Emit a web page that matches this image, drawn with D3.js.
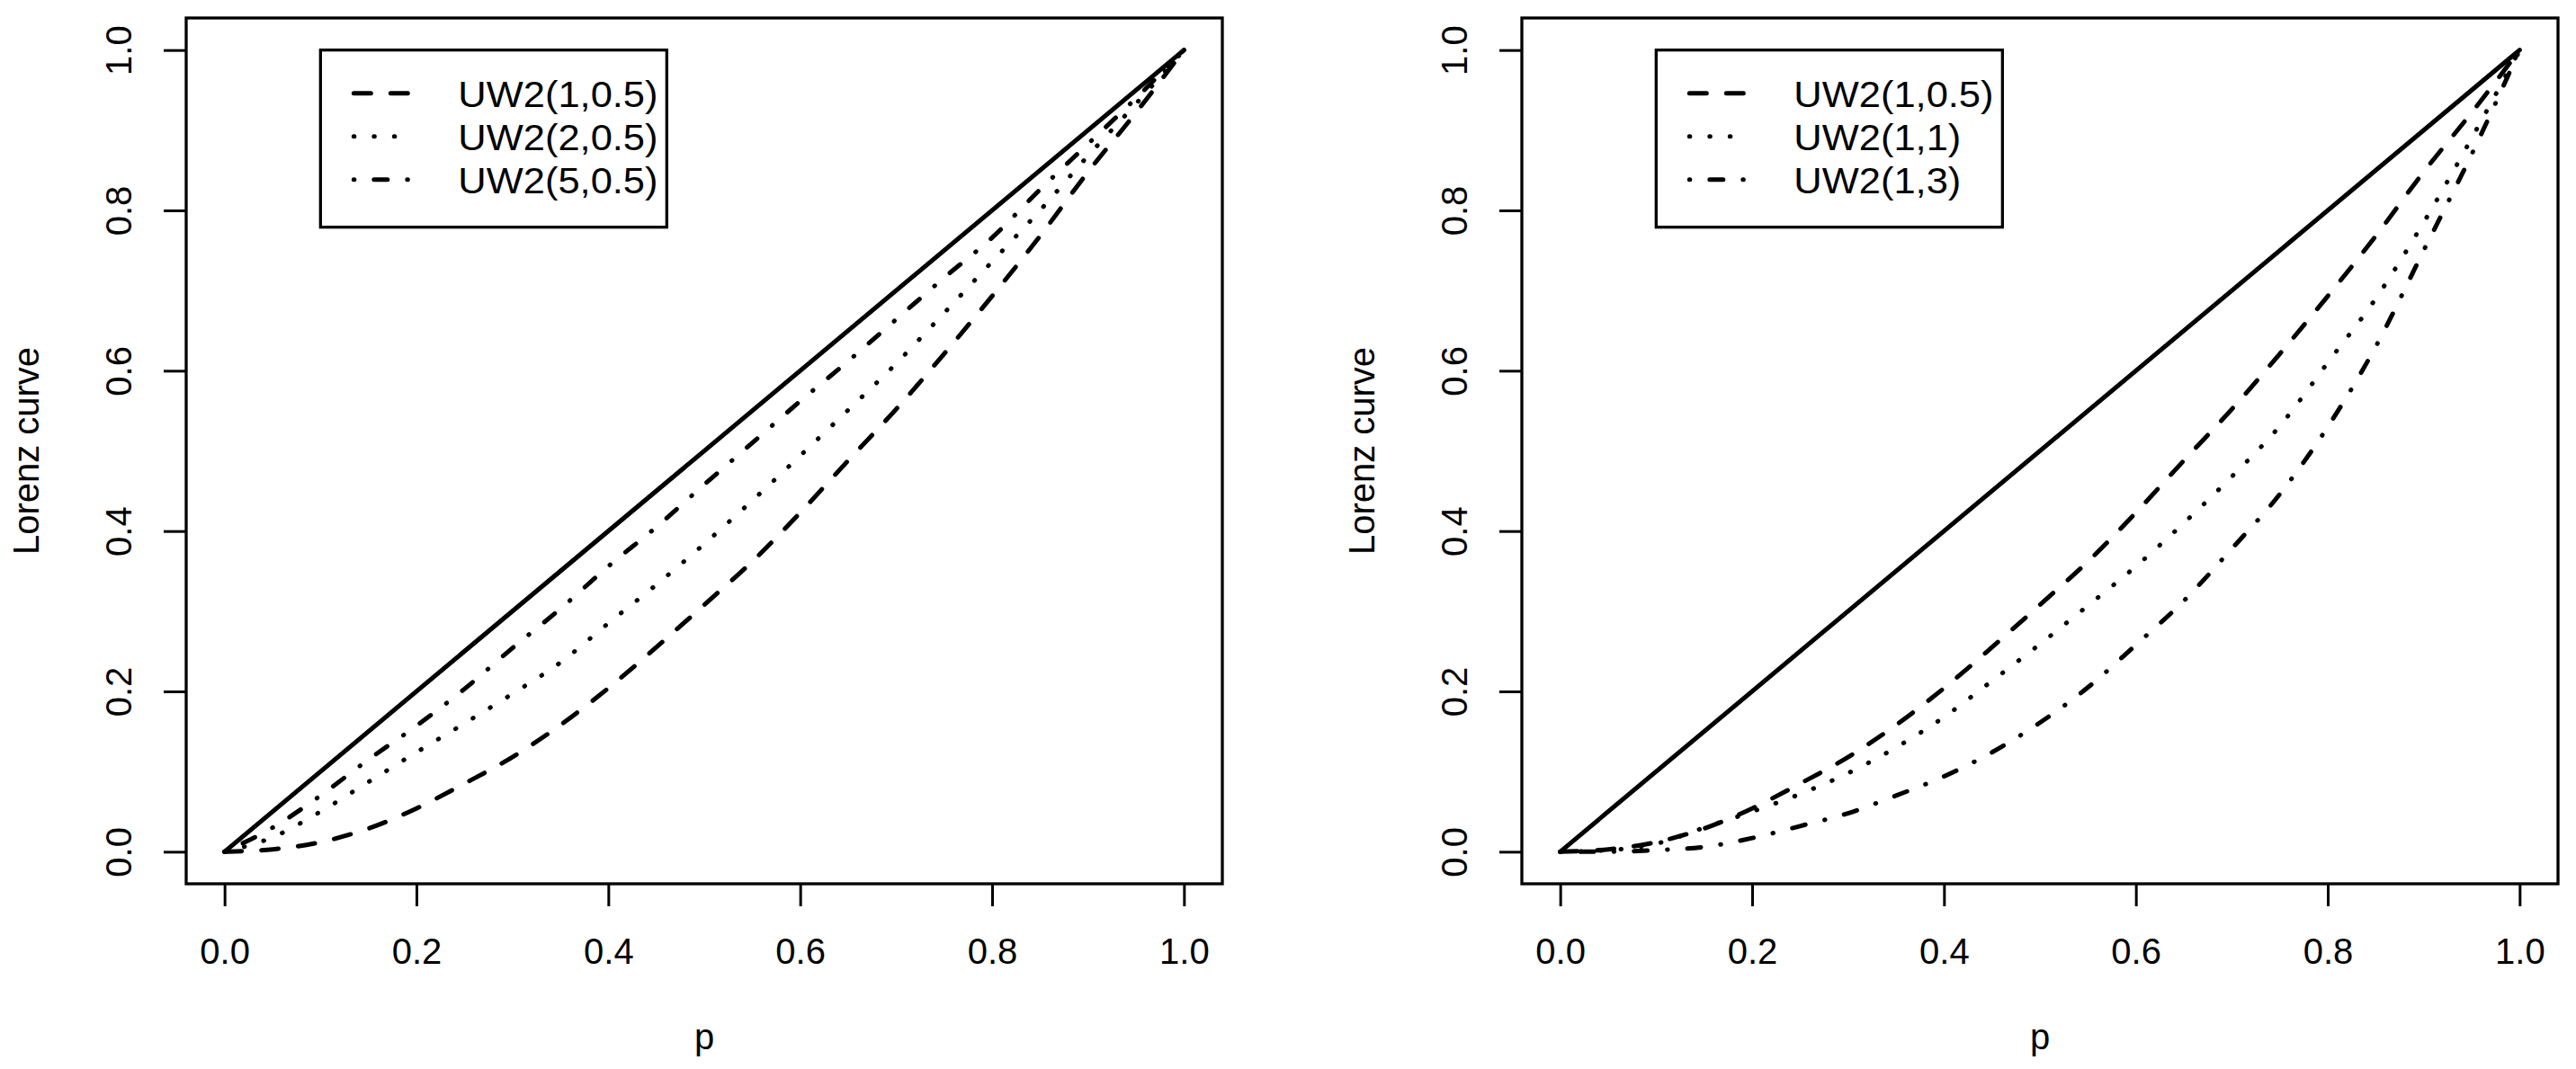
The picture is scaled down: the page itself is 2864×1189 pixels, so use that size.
<!DOCTYPE html>
<html>
<head>
<meta charset="utf-8">
<script src="https://cdn.jsdelivr.net/npm/d3@7"></script>
<style>
  body { margin: 0; background: #fff; }
  svg { display: block; font-family: "Liberation Sans", Arial, sans-serif; }
</style>
</head>
<body>
<div id="chart"></div>
<script>
// p grid shared by every curve
const pValues = [0, 0.05, 0.1, 0.15, 0.2, 0.25, 0.3, 0.35, 0.4, 0.45, 0.5,
                 0.55, 0.6, 0.65, 0.7, 0.75, 0.8, 0.85, 0.9, 0.95, 1];

// equality line
const equalityP = [0, 1];
const equalityL = [0, 1];

// left panel
const uw2_1_05 = [0, 0.003, 0.012, 0.029, 0.054, 0.085, 0.118, 0.158, 0.204, 0.255, 0.308,
                  0.362, 0.423, 0.488, 0.552, 0.621, 0.693, 0.768, 0.848, 0.922, 1];
const uw2_2_05 = [0, 0.018, 0.05, 0.087, 0.124, 0.16, 0.197, 0.236, 0.285, 0.333, 0.384,
                  0.438, 0.494, 0.551, 0.609, 0.672, 0.736, 0.8, 0.868, 0.933, 1];
const uw2_5_05 = [0, 0.03, 0.07, 0.115, 0.157, 0.203, 0.254, 0.303, 0.356, 0.405, 0.458,
                  0.51, 0.562, 0.612, 0.664, 0.716, 0.766, 0.826, 0.883, 0.94, 1];

// right panel
const uw2_1_1 = [0, 0.002, 0.01, 0.03, 0.05, 0.072, 0.098, 0.13, 0.168, 0.213, 0.259,
                 0.307, 0.356, 0.41, 0.468, 0.531, 0.61, 0.69, 0.785, 0.89, 1];
const uw2_1_3 = [0, 0, 0.002, 0.006, 0.017, 0.032, 0.048, 0.07, 0.094, 0.124, 0.161,
                 0.205, 0.258, 0.313, 0.378, 0.446, 0.53, 0.63, 0.75, 0.87, 1];

const leftLabels = ["UW2(1,0.5)", "UW2(2,0.5)", "UW2(5,0.5)"];
const rightLabels = ["UW2(1,0.5)", "UW2(1,1)", "UW2(1,3)"];

const tickValues = [0, 0.2, 0.4, 0.6, 0.8, 1.0];

const WIDTH = 2864, HEIGHT = 1189;
const LWD = 5;
const dashes = {
    dashed: "19,22",
    dotted: "0.5,22",
    dotdash: "0.5,22,15,22"
};

const svg = d3.select("#chart")
    .append("svg")
    .attr("width", WIDTH)
    .attr("height", HEIGHT);

svg.append("rect")
    .attr("width", WIDTH)
    .attr("height", HEIGHT)
    .attr("fill", "#fff");

function createPanel(left, series, labels) {
    const plotW = 1152;
    const top = 20, bottom = 983;

    // R style 4% padding around [0,1]
    const x = d3.scaleLinear().domain([-0.04, 1.04]).range([left, left + plotW]);
    const y = d3.scaleLinear().domain([-0.04, 1.04]).range([bottom, top]);

    const g = svg.append("g");

    const line = d3.line()
        .x(d => x(d[0]))
        .y(d => y(d[1]))
        .curve(d3.curveMonotoneX);

    // equality line
    g.append("path")
        .datum(d3.zip(equalityP, equalityL))
        .attr("d", line)
        .attr("fill", "none")
        .attr("stroke", "#000")
        .attr("stroke-width", LWD)
        .attr("stroke-linecap", "round");

    series.forEach(s => {
        g.append("path")
            .datum(d3.zip(pValues, s.values))
            .attr("d", line)
            .attr("fill", "none")
            .attr("stroke", "#000")
            .attr("stroke-width", LWD)
            .attr("stroke-linecap", "round")
            .attr("stroke-dasharray", dashes[s.lty]);
    });

    // box
    g.append("rect")
        .attr("x", left)
        .attr("y", top)
        .attr("width", plotW)
        .attr("height", bottom - top)
        .attr("fill", "none")
        .attr("stroke", "#000")
        .attr("stroke-width", 3.3);

    const xAxis = g.append("g")
        .attr("transform", `translate(0, ${bottom})`)
        .call(d3.axisBottom(x).tickValues(tickValues).tickFormat(d3.format(".1f")).tickSize(25));
    xAxis.select(".domain").remove();
    xAxis.selectAll(".tick line").attr("stroke-width", 3);
    xAxis.selectAll("text")
        .attr("y", 89)
        .attr("dy", 0)
        .style("font-size", "40px")
        .attr("fill", "#000");

    const yAxis = g.append("g")
        .attr("transform", `translate(${left}, 0)`)
        .call(d3.axisLeft(y).tickValues(tickValues).tickFormat(d3.format(".1f")).tickSize(25));
    yAxis.select(".domain").remove();
    yAxis.selectAll(".tick line").attr("stroke-width", 3);
    yAxis.selectAll("text")
        .attr("x", 0)
        .attr("y", -61)
        .attr("dy", 0)
        .attr("text-anchor", "middle")
        .attr("transform", "rotate(-90)")
        .style("font-size", "40px")
        .attr("fill", "#000");

    // axis titles
    g.append("text")
        .attr("x", left + plotW / 2)
        .attr("y", 1167)
        .attr("text-anchor", "middle")
        .style("font-size", "40px")
        .text("p");

    g.append("text")
        .attr("transform", `translate(${left - 164}, ${(top + bottom) / 2}) rotate(-90)`)
        .attr("text-anchor", "middle")
        .style("font-size", "40px")
        .text("Lorenz curve");

    // legend, anchored at (0.1, 1.0) like legend(0.1, 1, ...)
    const lx = x(0.1), ly = y(1);
    const legend = g.append("g").attr("transform", `translate(${lx}, ${ly})`);
    legend.append("rect")
        .attr("width", 385)
        .attr("height", 197)
        .attr("fill", "#fff")
        .attr("stroke", "#000")
        .attr("stroke-width", 3.3);

    series.forEach((s, i) => {
        const rowY = 48 + i * 48;
        legend.append("line")
            .attr("x1", 37).attr("x2", 100)
            .attr("y1", rowY).attr("y2", rowY)
            .attr("stroke", "#000")
            .attr("stroke-width", LWD)
            .attr("stroke-linecap", "round")
            .attr("stroke-dasharray", dashes[s.lty]);
        const t = legend.append("text")
            .attr("x", 153)
            .attr("y", rowY + 15)
            .style("font-size", "41px")
            .text(labels[i]);
        // glyphs in the original run a little wider than Liberation Sans
        const w = t.node().getComputedTextLength();
        t.attr("textLength", w * 1.06).attr("lengthAdjust", "spacingAndGlyphs");
    });
}

createPanel(207, [
    { values: uw2_1_05, lty: "dashed" },
    { values: uw2_2_05, lty: "dotted" },
    { values: uw2_5_05, lty: "dotdash" }
], leftLabels);

createPanel(1692, [
    { values: uw2_1_05, lty: "dashed" },
    { values: uw2_1_1, lty: "dotted" },
    { values: uw2_1_3, lty: "dotdash" }
], rightLabels);
</script>
</body>
</html>
